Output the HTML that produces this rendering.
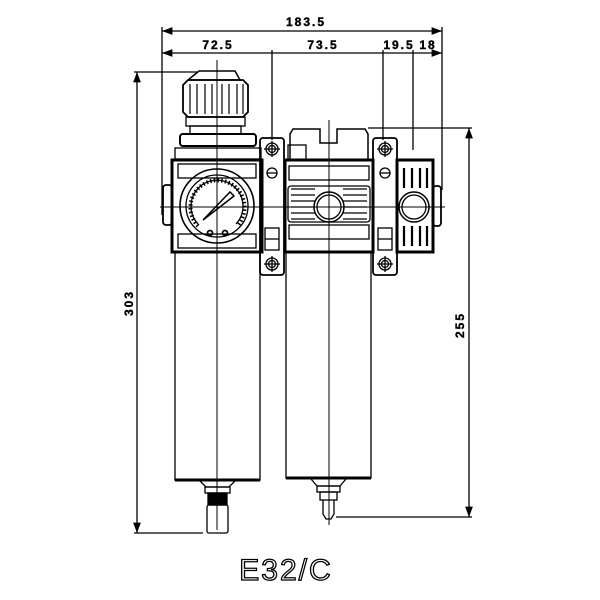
<!DOCTYPE html>
<html><head><style>html,body{margin:0;padding:0;background:#fff}svg{display:block}</style></head>
<body>
<svg width="600" height="600" viewBox="0 0 600 600" xmlns="http://www.w3.org/2000/svg" fill="none" stroke="#000" stroke-width="1.3">
<defs>
<marker id="a" markerWidth="8" markerHeight="6" refX="8" refY="3" orient="auto-start-reverse"><path d="M0,0 L8,3 L0,6z" fill="#000" stroke="none"/></marker>
</defs>
<line x1="162" y1="31" x2="442" y2="31" marker-start="url(#a)" marker-end="url(#a)"/>
<line x1="162" y1="53" x2="442" y2="53" marker-start="url(#a)" marker-end="url(#a)"/>
<line x1="162" y1="27" x2="162" y2="215"/>
<line x1="442" y1="27" x2="442" y2="190"/>
<line x1="272" y1="50" x2="272" y2="140"/>
<line x1="383" y1="50" x2="383" y2="140"/>
<line x1="413" y1="50" x2="413" y2="150"/>
<g font-family="Liberation Sans, sans-serif" font-weight="bold" font-size="12" fill="#000" stroke="#000" stroke-width="0.4" text-anchor="middle" letter-spacing="2">
<text x="306" y="26">183.5</text>
<text x="218" y="49">72.5</text>
<text x="323" y="49">73.5</text>
<text x="399" y="49">19.5</text>
<text x="428" y="49">18</text>
<text transform="translate(133,303) rotate(-90)">303</text>
<text transform="translate(464,325) rotate(-90)">255</text>
</g>
<line x1="137" y1="72" x2="137" y2="533" marker-start="url(#a)" marker-end="url(#a)"/>
<line x1="134" y1="72" x2="197" y2="72"/>
<line x1="134" y1="533" x2="203" y2="533"/>
<line x1="469" y1="128" x2="469" y2="517" marker-start="url(#a)" marker-end="url(#a)"/>
<line x1="368" y1="128" x2="472" y2="128"/>
<line x1="336" y1="517" x2="472" y2="517"/>
<!-- knob -->
<path d="M199,71 L235,71 L240,80 L188,80 Z" stroke-width="1.5"/>
<path d="M188,80 L243,80 L248,85 L248,112 L243,117 L188,117 L183,112 L183,85 Z" stroke-width="1.8"/>
<g stroke-width="1.2"><line x1="190" y1="84" x2="190" y2="114"/><line x1="197" y1="84" x2="197" y2="114"/><line x1="205" y1="84" x2="205" y2="114"/><line x1="212" y1="84" x2="212" y2="114"/><line x1="222" y1="84" x2="222" y2="114"/><line x1="229" y1="84" x2="229" y2="114"/><line x1="237" y1="84" x2="237" y2="114"/><line x1="243" y1="84" x2="243" y2="114"/></g>
<rect x="186" y="117" width="59" height="9"/>
<rect x="190" y="126" width="51" height="8"/>
<rect x="180" y="134" width="76" height="12" rx="3" stroke-width="2"/>
<rect x="175" y="148" width="86" height="11"/>
<rect x="172" y="160" width="90" height="92" stroke-width="3"/>
<rect x="178" y="164" width="78" height="14"/>
<rect x="178" y="234" width="78" height="14"/>
<rect x="163" y="185" width="9" height="40" rx="3" stroke-width="1.8"/>
<circle cx="217" cy="206" r="37" stroke-width="1.6"/>
<circle cx="217" cy="206" r="31" stroke-width="1.3"/>
<path d="M198,226 A27,27 0 1 1 237,226" stroke-width="4" stroke-dasharray="1.5,2.2"/>
<path d="M198,224 A26,26 0 1 1 236,224" stroke-width="1.3"/>
<path d="M203,220 L230,192 L234,196 Z" fill="#fff" stroke-width="1.5"/>
<circle cx="210" cy="233" r="2.5" stroke-width="1.8"/>
<circle cx="225" cy="233" r="2.5" stroke-width="1.8"/>
<path d="M175,252 L175,480 L260,480 L260,252"/>
<line x1="175" y1="480" x2="260" y2="480" stroke-width="3"/>
<path d="M200,481 L206,487 L229,487 L235,481"/>
<rect x="205" y="487" width="25" height="6"/>
<rect x="208" y="493" width="19" height="12" fill="#000"/>
<rect x="207" y="505" width="21" height="28" rx="2"/>
<g stroke-width="1.8">
<rect x="260" y="138" width="24" height="137" rx="3"/>
<rect x="373" y="138" width="24" height="137" rx="3"/>
</g>
<g stroke-width="1.3">
<circle cx="272" cy="149" r="6"/><circle cx="272" cy="149" r="3.5"/><path d="M264,149h16M272,141v16"/>
<circle cx="272" cy="264" r="6"/><circle cx="272" cy="264" r="3.5"/><path d="M264,264h16M272,256v16"/>
<circle cx="272" cy="173" r="5"/><path d="M267,173h10"/>
<circle cx="385" cy="149" r="6"/><circle cx="385" cy="149" r="3.5"/><path d="M377,149h16M385,141v16"/>
<circle cx="385" cy="264" r="6"/><circle cx="385" cy="264" r="3.5"/><path d="M377,264h16M385,256v16"/>
<circle cx="385" cy="173" r="5"/><path d="M380,173h10"/>
<rect x="265" y="228" width="14" height="22"/><path d="M265,239h14"/>
<rect x="378" y="228" width="14" height="22"/><path d="M378,239h14"/>
</g>
<path d="M290,160 L290,134 L293,129 L320,129 L320,143 L337,143 L337,129 L365,129 L368,134 L368,160" stroke-width="1.5"/>
<rect x="288" y="145" width="18" height="15"/>
<rect x="285" y="160" width="88" height="92" stroke-width="3"/>
<rect x="289" y="166" width="80" height="14"/>
<rect x="289" y="225" width="80" height="14"/>
<g stroke-width="1.3">
<line x1="291" y1="189" x2="315" y2="189"/><line x1="291" y1="195" x2="315" y2="195"/><line x1="291" y1="201" x2="315" y2="201"/><line x1="291" y1="207" x2="313" y2="207"/><line x1="291" y1="213" x2="315" y2="213"/><line x1="291" y1="219" x2="315" y2="219"/>
<line x1="343" y1="189" x2="367" y2="189"/><line x1="343" y1="195" x2="367" y2="195"/><line x1="343" y1="201" x2="367" y2="201"/><line x1="345" y1="207" x2="367" y2="207"/><line x1="343" y1="213" x2="367" y2="213"/><line x1="343" y1="219" x2="367" y2="219"/>
<rect x="288" y="186" width="82" height="36" rx="3"/>
</g>
<circle cx="329" cy="207" r="15" stroke-width="1.5"/>
<circle cx="329" cy="207" r="12" stroke-width="1.3"/>
<path d="M286,252 L286,478 L371,478 L371,252"/>
<line x1="286" y1="478" x2="371" y2="478" stroke-width="3"/>
<path d="M311,479 L317,486 L340,486 L346,479"/>
<rect x="317" y="486" width="23" height="6"/>
<rect x="320" y="492" width="17" height="8"/>
<path d="M323,500 L323,514 L326,519 L331,519 L334,514 L334,500"/>
<rect x="397" y="160" width="36" height="92" stroke-width="3"/>
<g stroke-width="2.2"><line x1="404" y1="168" x2="404" y2="188"/><line x1="412" y1="168" x2="412" y2="188"/><line x1="420" y1="168" x2="420" y2="188"/><line x1="427" y1="168" x2="427" y2="188"/>
<line x1="404" y1="226" x2="404" y2="246"/><line x1="412" y1="226" x2="412" y2="246"/><line x1="420" y1="226" x2="420" y2="246"/><line x1="427" y1="226" x2="427" y2="246"/></g>
<circle cx="414" cy="207" r="15" stroke-width="1.5"/>
<circle cx="414" cy="207" r="12" stroke-width="1.3"/>
<rect x="433" y="186" width="8" height="40" rx="3" stroke-width="1.8"/>
<g stroke-width="1">
<line x1="217" y1="60" x2="217" y2="530"/>
<line x1="329" y1="120" x2="329" y2="525"/>
<line x1="160" y1="207" x2="445" y2="207"/>
</g>
<text x="286" y="580" font-family="Liberation Sans, sans-serif" font-size="30" fill="#fff" stroke="#000" stroke-width="1.3" text-anchor="middle" letter-spacing="2">E32/C</text>
</svg>
</body></html>
